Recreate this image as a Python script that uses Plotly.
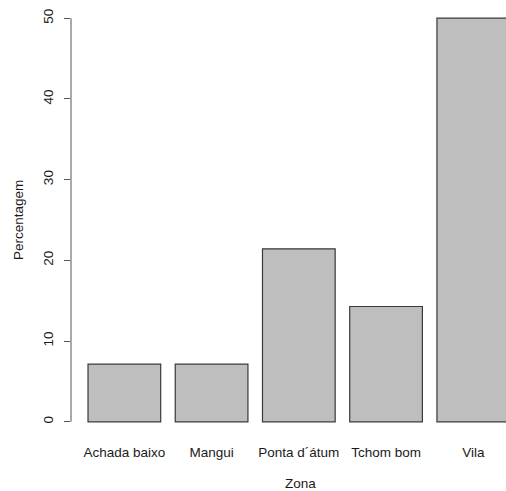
import plotly.graph_objects as go

categories = ["Achada baixo", "Mangui", "Ponta d´átum", "Tchom bom", "Vila"]
values = [7.142857, 7.142857, 21.428571, 14.285714, 50.0]
y_ticks = [0, 10, 20, 30, 40, 50]

# R barplot positions: width 1, space 0.2
centers = [0.7 + 1.2 * i for i in range(len(categories))]

FONT = "Liberation Sans, Arial, sans-serif"
TXT = "#1a1a1a"
FS = 13.5

fig = go.Figure(go.Bar(
    x=centers, y=values, width=[1.0] * len(values),
    marker=dict(color="#bebebe", line=dict(color="#3a3a3a", width=1.2)),
    hoverinfo="skip",
))

fig.update_layout(
    width=506, height=491,
    margin=dict(l=71, r=0, t=2, b=53),
    plot_bgcolor="white", paper_bgcolor="white",
    showlegend=False,
    font=dict(family=FONT, size=FS, color=TXT),
    xaxis=dict(
        range=[-0.034, 5.95], showgrid=False, zeroline=False, showline=False,
        tickmode="array", tickvals=centers, ticktext=categories,
        ticks="", tickfont=dict(size=FS, color=TXT), ticklabelstandoff=4,
    ),
    yaxis=dict(
        range=[-2, 52], showgrid=False, zeroline=False, showline=False,
        tickmode="array", tickvals=y_ticks, ticktext=[str(v) for v in y_ticks],
        ticks="outside", ticklen=6, tickwidth=1, tickcolor="#555",
        tickangle=-90, tickfont=dict(size=FS, color=TXT), ticklabelstandoff=6,
    ),
    shapes=[dict(type="line", xref="paper", yref="y", x0=0, x1=0,
                 y0=y_ticks[0], y1=y_ticks[-1], line=dict(color="#555", width=1))],
    annotations=[
        dict(text="Zona", xref="paper", yref="paper", x=(300 - 71) / 435,
             y=-(484 - 438) / 436, xanchor="center", yanchor="middle",
             showarrow=False, font=dict(size=FS, color=TXT)),
        dict(text="Percentagem", xref="paper", yref="paper", x=-(71 - 18) / 435,
             y=0.5, xanchor="center", yanchor="middle", textangle=-90,
             showarrow=False, font=dict(size=FS, color=TXT)),
    ],
)

fig.write_html("out.html", config={"displayModeBar": False},
               post_script="document.body.style.margin='0';document.body.style.overflow='hidden';")
